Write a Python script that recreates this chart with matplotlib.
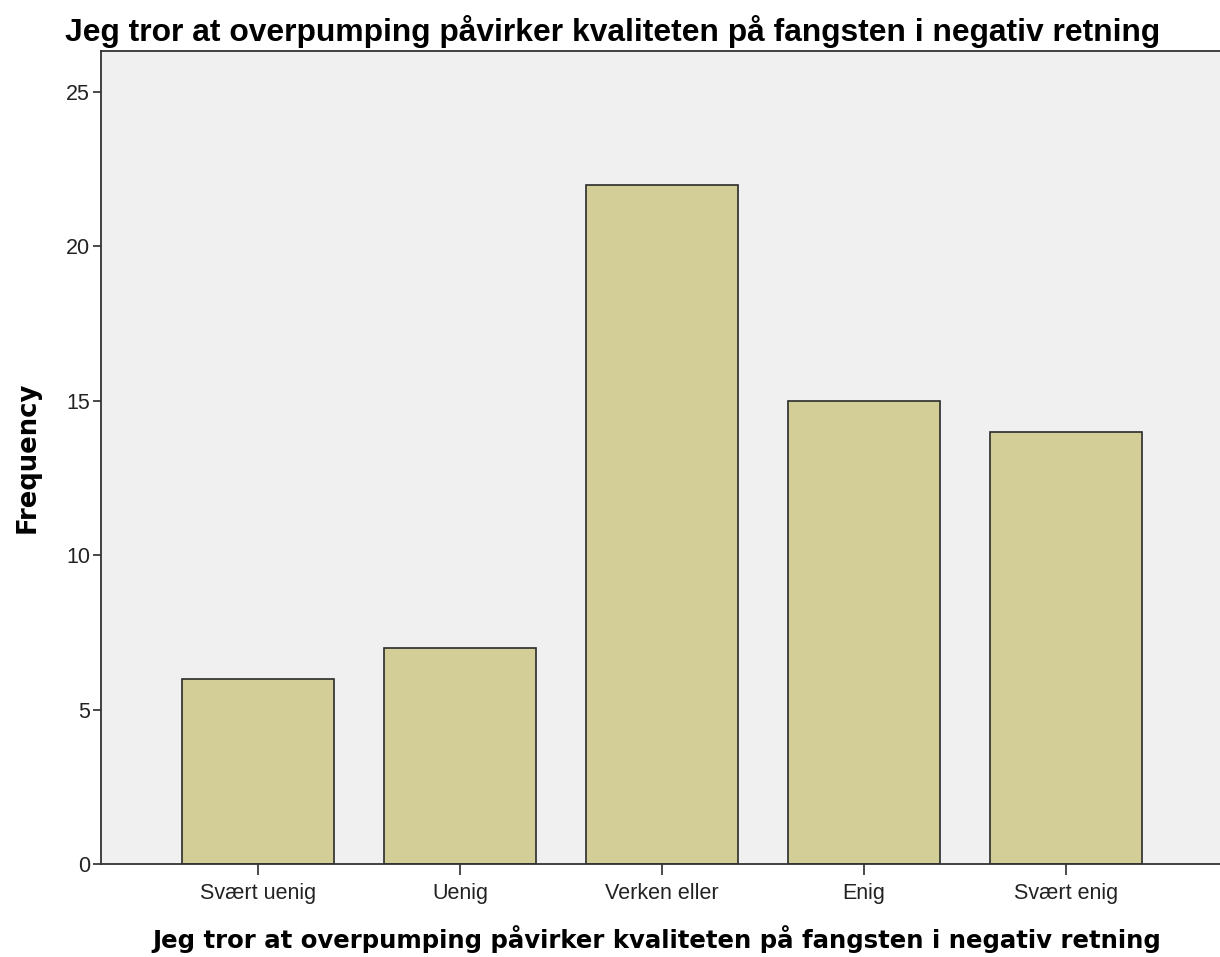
import matplotlib
matplotlib.use("Agg")
import matplotlib.pyplot as plt

categories = ["Svært uenig", "Uenig", "Verken eller", "Enig", "Svært enig"]
frequencies = [6, 7, 22, 15, 14]
yticks = [0, 5, 10, 15, 20, 25]
title = "Jeg tror at overpumping påvirker kvaliteten på fangsten i negativ retning"
xlabel = "Jeg tror at overpumping påvirker kvaliteten på fangsten i negativ retning"
ylabel = "Frequency"

fig = plt.figure(figsize=(12.2, 9.57), dpi=100)
W, H = 1220, 957
left, right, top, bottom = 101, 1220, 51, 864
ax = fig.add_axes([left / W, 1 - bottom / H, (right - left) / W, (bottom - top) / H])
ax.set_facecolor("#F0F0F0")

x = list(range(len(categories)))
ax.bar(x, frequencies, width=0.75, color="#D3CE98", edgecolor="#2b2b2b", linewidth=1.2)
ax.set_xlim(-0.777, 4.762)
ax.set_ylim(0, 26.33)
ax.set_yticks(yticks)
ax.set_yticklabels([str(v) for v in yticks], fontsize=15.5, family="Liberation Sans", color="#222222")
ax.set_xticks(x)
ax.set_xticklabels(categories, fontsize=15.5, family="Liberation Sans", color="#222222")
ax.tick_params(axis="both", length=6, width=1.2, color="#2b2b2b", pad=2)
ax.tick_params(axis="x", length=8, pad=6)
for s in ["left", "bottom", "top"]:
    ax.spines[s].set_color("#333333")
    ax.spines[s].set_linewidth(1.3)
ax.spines["right"].set_visible(False)

fig.text(28 / W, 1 - 457 / H, ylabel, fontsize=18.6, fontweight="bold", family="DejaVu Sans",
         rotation=90, ha="center", va="center")
fig.text((148 + 1165) / 2 / W, 1 - 939 / H, xlabel, fontsize=17.6, fontweight="bold",
         family="DejaVu Sans", ha="center", va="center")
fig.text(65 / W, 1 - 32 / H, title, fontsize=22.85, fontweight="bold", family="Liberation Sans",
         va="center", ha="left")

fig.savefig("out.png", dpi=100, facecolor="white")
